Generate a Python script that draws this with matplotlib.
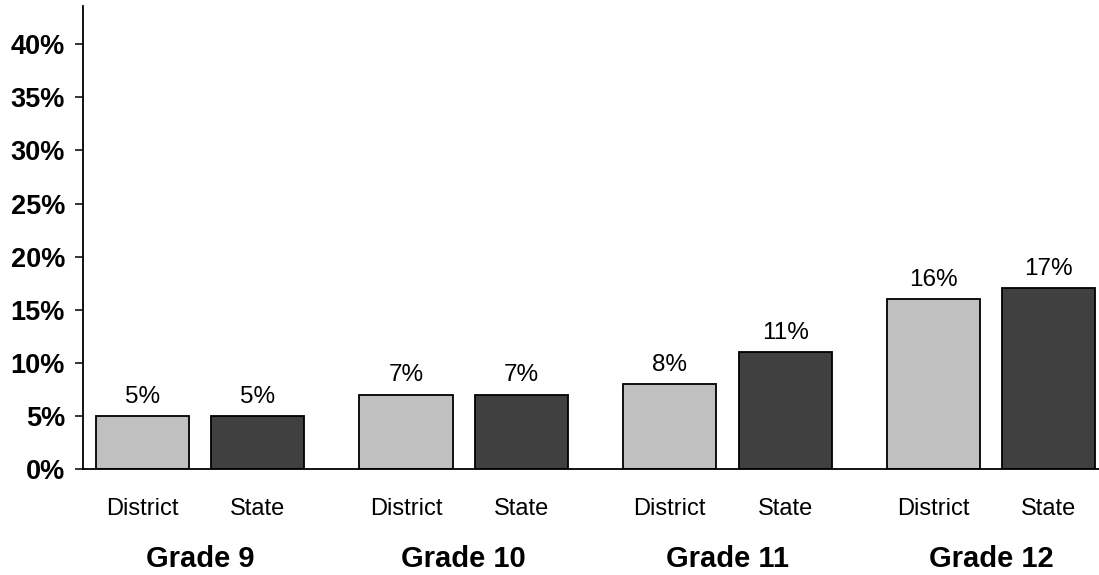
import numpy as np
import matplotlib.pyplot as plt
import matplotlib.transforms as mtransforms

plt.rcParams['font.family'] = ['Liberation Sans', 'DejaVu Sans']

grades = ['Grade 9', 'Grade 10', 'Grade 11', 'Grade 12']
series = ['District', 'State']
district = [5, 7, 8, 16]
state = [5, 7, 11, 17]
yticks = [0, 5, 10, 15, 20, 25, 30, 35, 40]

fig = plt.figure(figsize=(10.99, 5.75), dpi=100)
ax = fig.add_axes([83 / 1099, 1 - 469 / 575, 1 - 83 / 1099, (469 - 6) / 575])

x = np.arange(len(grades))
width = 0.353
offset = 0.219
bars_d = ax.bar(x - offset, district, width, color='#c0c0c0', edgecolor='black', linewidth=1.3)
bars_s = ax.bar(x + offset, state, width, color='#404040', edgecolor='black', linewidth=1.3)

for bars, vals in [(bars_d, district), (bars_s, state)]:
    for b, v in zip(bars, vals):
        ax.annotate(f'{v}%', (b.get_x() + b.get_width() / 2, v),
                    xytext=(0, 6), textcoords='offset points',
                    ha='center', va='bottom', fontsize=17.5)

ax.set_xlim(-0.444, 3.409)
ax.set_ylim(0, 43.6)
ax.set_yticks(yticks)
ax.set_yticklabels([f'{t}%' for t in yticks], fontsize=19.5, fontweight='bold')
ax.tick_params(axis='y', length=6, width=1.1, pad=7)

pos = np.concatenate([x - offset, x + offset])
labs = ['District'] * len(x) + ['State'] * len(x)
ax.set_xticks(pos)
ax.set_xticklabels(labs, fontsize=17)
ax.tick_params(axis='x', length=0, pad=21)

trans = mtransforms.blended_transform_factory(ax.transData, fig.transFigure)
for xi, g in zip(x, grades):
    ax.text(xi, 1 - 559 / 575, g, transform=trans, ha='center', va='center',
            fontsize=21, fontweight='bold')

for side in ['top', 'right']:
    ax.spines[side].set_visible(False)
for side in ['left', 'bottom']:
    ax.spines[side].set_linewidth(1.3)

fig.savefig('out.png', dpi=100)
